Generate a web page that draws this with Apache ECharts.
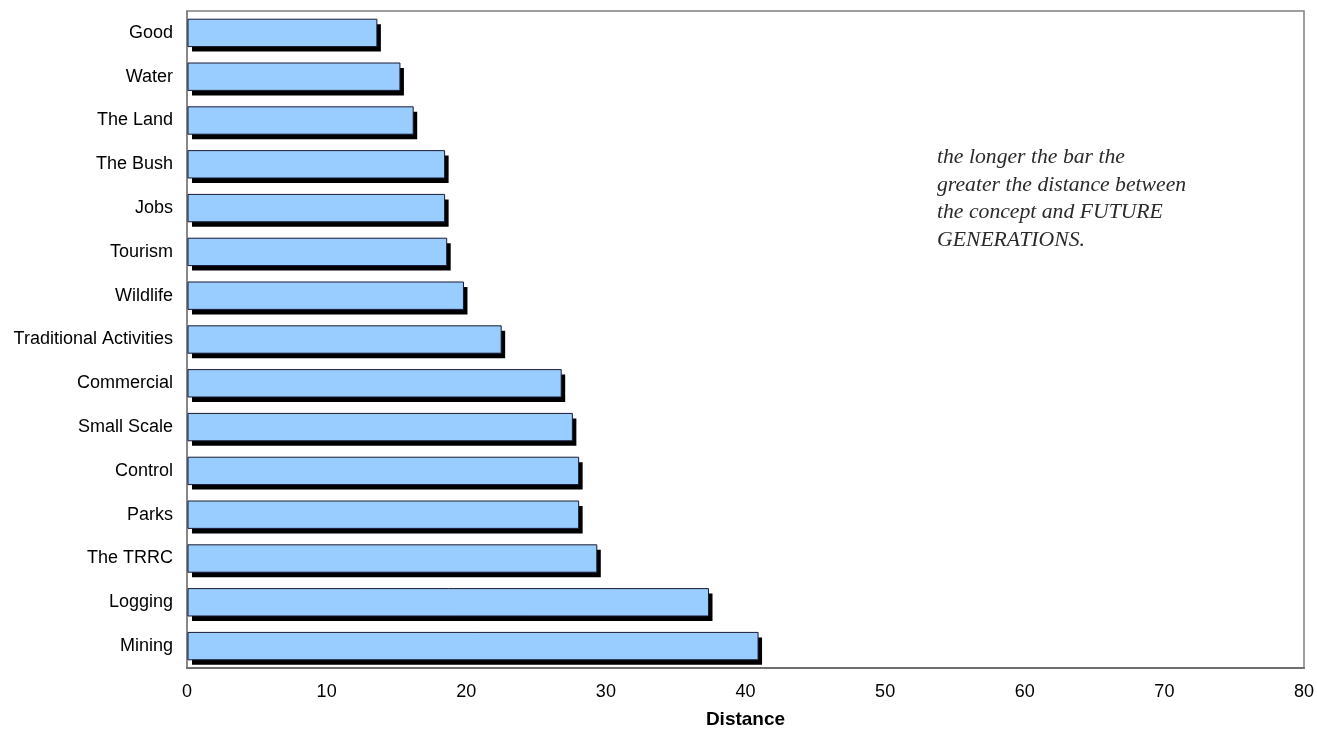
<!DOCTYPE html>
<html>
<head>
<meta charset="utf-8">
<script src="https://cdn.jsdelivr.net/npm/echarts@6/dist/echarts.min.js"></script>
<style>
html,body{margin:0;padding:0;background:#fff;}
#chart{width:1317px;height:730px;}
</style>
</head>
<body>
<div id="chart"></div>
<script>
const categories = ["Good","Water","The Land","The Bush","Jobs","Tourism","Wildlife","Traditional Activities","Commercial","Small Scale","Control","Parks","The TRRC","Logging","Mining"];
const distances = [13.6,15.25,16.2,18.45,18.45,18.6,19.8,22.5,26.8,27.6,28.05,28.05,29.35,37.35,40.9];
const xTicks = [0,10,20,30,40,50,60,70,80];
const axisTitle = "Distance";
const noteLines = ["the longer the bar the","greater the distance between","the concept and FUTURE","GENERATIONS."];

const barData = distances.map((v, i) => [v, i]);

function renderBar(params, api) {
  const v = api.value(0);
  const idx = api.value(1);
  const start = api.coord([0, idx]);
  const end = api.coord([v, idx]);
  const band = api.size([0, 1])[1];
  const h = band * 0.625;
  const x = start[0] + 1;
  const y = start[1] - h / 2;
  const w = end[0] - start[0] - 1;
  return {
    type: 'group',
    children: [
      {type:'rect', shape:{x:x + 4, y:y + 5, width:w, height:h}, style:{fill:'#000000'}},
      {type:'rect', shape:{x:x, y:y, width:w, height:h}, style:{fill:'#99ccff', stroke:'#1a1a33', lineWidth:1}}
    ]
  };
}

const chart = echarts.init(document.getElementById('chart'), null, {renderer:'canvas'});
chart.setOption({
  animation:false,
  backgroundColor:'#ffffff',
  grid:{left:187, right:13, top:11, bottom:62, outerBoundsMode:'none', containLabel:false, show:true, borderColor:'#808080', borderWidth:1.5, backgroundColor:'transparent'},
  xAxis:{
    type:'value', min:xTicks[0], max:xTicks[xTicks.length-1], interval:10,
    name:axisTitle, nameLocation:'middle', nameGap:42,
    nameTextStyle:{fontFamily:'Liberation Sans, Arial', fontSize:19, fontWeight:'bold', color:'#000'},
    axisLine:{show:true, lineStyle:{color:'#707070', width:2}},
    axisTick:{show:false},
    splitLine:{show:false},
    axisLabel:{fontFamily:'Liberation Sans, Arial', fontSize:18, color:'#000', margin:15}
  },
  yAxis:{
    type:'category', data:categories, inverse:true,
    axisLine:{show:true, lineStyle:{color:'#808080', width:1.5}},
    axisTick:{show:false},
    axisLabel:{fontFamily:'Liberation Sans, Arial', fontSize:18, color:'#000', margin:14}
  },
  series:[{
    type:'custom', data:barData, renderItem:renderBar,
    encode:{x:0, y:1}
  }],
  graphic:[{
    type:'text', left:937, top:144,
    style:{text:noteLines.join('\n'), fontFamily:'Liberation Serif, Times New Roman, serif', fontStyle:'italic', fontSize:21.7, lineHeight:27.5, fill:'#2a2a2a'}
  }]
});
</script>
</body>
</html>
